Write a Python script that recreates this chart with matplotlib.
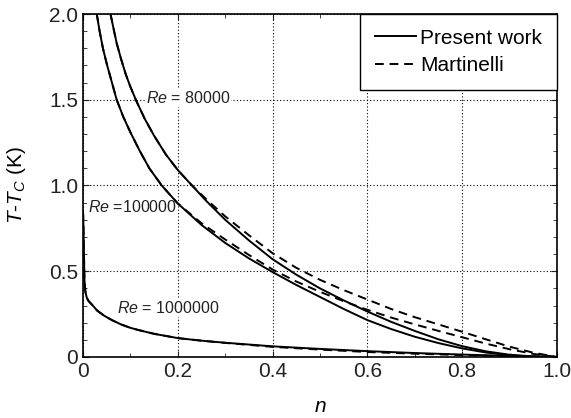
import numpy as np
import matplotlib
matplotlib.use('Agg')
import matplotlib.pyplot as plt
from matplotlib.ticker import MultipleLocator

# --- Dados ---

# Re = 80000, presente trabalho (linha cheia)
n_80k = [0.058, 0.064, 0.071, 0.08, 0.09, 0.1, 0.113, 0.13, 0.15, 0.175, 0.2, 0.23, 0.26,
         0.3, 0.35, 0.4, 0.45, 0.5, 0.55, 0.6, 0.65, 0.7, 0.75, 0.8, 0.85, 0.9, 0.95, 1.0]
t_80k = [2.0, 1.92, 1.83, 1.74, 1.65, 1.575, 1.49, 1.39, 1.29, 1.18, 1.09, 1.0, 0.91,
         0.8, 0.68, 0.57, 0.48, 0.4, 0.33, 0.265, 0.205, 0.152, 0.103, 0.063, 0.033, 0.013, 0.003, 0.0]

# Re = 80000, Martinelli (tracejada)
n_80k_m = [0.058, 0.064, 0.071, 0.08, 0.09, 0.1, 0.113, 0.13, 0.15, 0.175, 0.2, 0.23, 0.26,
           0.3, 0.35, 0.4, 0.45, 0.5, 0.55, 0.6, 0.65, 0.7, 0.75, 0.8, 0.85, 0.9, 0.95, 1.0]
t_80k_m = [2.0, 1.92, 1.83, 1.74, 1.65, 1.575, 1.49, 1.39, 1.29, 1.18, 1.09, 1.0, 0.92,
           0.82, 0.71, 0.605, 0.52, 0.45, 0.39, 0.335, 0.28, 0.232, 0.19, 0.147, 0.103, 0.06, 0.025, 0.0]

# Re = 100000, presente trabalho
n_100k = [0.029, 0.035, 0.042, 0.05, 0.06, 0.071, 0.085, 0.1, 0.12, 0.14, 0.166, 0.2, 0.25,
          0.3, 0.35, 0.4, 0.45, 0.5, 0.55, 0.6, 0.65, 0.7, 0.75, 0.8, 0.85, 0.9, 0.95, 1.0]
t_100k = [2.0, 1.9, 1.8, 1.71, 1.61, 1.5, 1.4, 1.31, 1.2, 1.1, 1.0, 0.895, 0.77,
          0.665, 0.575, 0.495, 0.42, 0.35, 0.28, 0.215, 0.163, 0.118, 0.081, 0.05, 0.026, 0.01, 0.002, 0.0]

# Re = 100000, Martinelli
n_100k_m = [0.029, 0.035, 0.042, 0.05, 0.06, 0.071, 0.085, 0.1, 0.12, 0.14, 0.166, 0.2, 0.25,
            0.3, 0.35, 0.4, 0.45, 0.5, 0.55, 0.6, 0.65, 0.7, 0.75, 0.8, 0.85, 0.9, 0.95, 1.0]
t_100k_m = [2.0, 1.9, 1.8, 1.71, 1.61, 1.5, 1.4, 1.31, 1.2, 1.1, 1.0, 0.895, 0.78,
            0.685, 0.595, 0.51, 0.44, 0.38, 0.325, 0.275, 0.23, 0.19, 0.152, 0.115, 0.078, 0.045, 0.018, 0.0]

# Re = 1000000, presente trabalho
n_1m = [0.0, 0.001, 0.002, 0.003, 0.005, 0.008, 0.012, 0.019, 0.03, 0.045, 0.061, 0.08,
        0.1, 0.117, 0.15, 0.2, 0.25, 0.3, 0.4, 0.5, 0.6, 0.7, 0.8, 0.9, 1.0]
t_1m = [0.85, 0.75, 0.6, 0.45, 0.38, 0.345, 0.325, 0.305, 0.27, 0.24, 0.215, 0.19,
        0.17, 0.157, 0.135, 0.11, 0.095, 0.083, 0.062, 0.047, 0.034, 0.023, 0.014, 0.006, 0.0]

# Re = 1000000, Martinelli
n_1m_m = [0.0, 0.001, 0.002, 0.003, 0.005, 0.008, 0.012, 0.019, 0.03, 0.045, 0.061, 0.08,
          0.1, 0.117, 0.15, 0.2, 0.25, 0.3, 0.4, 0.5, 0.6, 0.7, 0.8, 0.9, 1.0]
t_1m_m = [0.85, 0.75, 0.6, 0.45, 0.38, 0.345, 0.325, 0.305, 0.27, 0.24, 0.215, 0.19,
          0.17, 0.157, 0.135, 0.11, 0.095, 0.082, 0.059, 0.043, 0.029, 0.019, 0.011, 0.004, 0.0]

# Rótulos das curvas: (texto, n, T)
rotulos = [(r'$Re$ = 80000', 0.132, 1.51),
           (r'$Re$ =100000', 0.01, 0.875),
           (r'$Re$ = 1000000', 0.072, 0.285)]

# --- Estilo ---
plt.rcParams['font.family'] = ['Liberation Sans', 'DejaVu Sans']
plt.rcParams['mathtext.fontset'] = 'custom'
plt.rcParams['mathtext.rm'] = 'Liberation Sans'
plt.rcParams['mathtext.it'] = 'Liberation Sans:italic'

fig = plt.figure(figsize=(5.71, 4.18), dpi=100)
ax = fig.add_axes([0.1454, 0.146, 0.83, 0.8205])

lw = 1.4
tracejado = (4.5, 3)

# Linhas cheias (presente trabalho)
ax.plot(n_80k, t_80k, color='black', lw=lw, label='Present work')
ax.plot(n_100k, t_100k, color='black', lw=lw)
ax.plot(n_1m, t_1m, color='black', lw=lw)

# Linhas tracejadas (Martinelli)
ax.plot(n_80k_m, t_80k_m, color='black', lw=lw, dashes=tracejado, label='Martinelli')
ax.plot(n_100k_m, t_100k_m, color='black', lw=lw, dashes=tracejado)
ax.plot(n_1m_m, t_1m_m, color='black', lw=lw, dashes=tracejado)

# Rótulos com fundo branco sobre a grade (abaixo das curvas)
for texto, xr, yr in rotulos:
    ax.text(xr, yr, texto, fontsize=11.5, va='center', ha='left', color='#222222',
            bbox=dict(facecolor='white', edgecolor='none', pad=0.5), zorder=1.8)

# Eixos
ax.set_xlim(0, 1.0)
ax.set_ylim(0, 2.0)
ax.xaxis.set_minor_locator(MultipleLocator(0.1))
ax.yaxis.set_minor_locator(MultipleLocator(0.1))
ax.set_xticks([0, 0.2, 0.4, 0.6, 0.8, 1.0])
ax.set_xticklabels(['0', '0.2', '0.4', '0.6', '0.8', '1.0'])
ax.set_yticks([0, 0.5, 1.0, 1.5, 2.0])
ax.set_yticklabels(['0', '0.5', '1.0', '1.5', '2.0'])
ax.tick_params(which='both', direction='in', top=True, right=True, labelsize=15, colors='#222222')
ax.tick_params(which='major', length=4, width=0.8)
ax.tick_params(which='minor', length=3, width=0.6)
for s in ax.spines.values():
    s.set_linewidth(1.2)

ax.grid(True, which='major', color='black', linestyle=(0, (1, 2)), linewidth=0.8)

ax.set_xlabel(r'$n$', fontsize=15, labelpad=12)
ax.set_ylabel(r'$T$-$T_C$ (K)', fontsize=15, labelpad=15)

leg = ax.legend(loc='upper right', fontsize=15, frameon=True, fancybox=False,
                borderaxespad=0, handlelength=2.0, handletextpad=0.2,
                borderpad=0.7, labelspacing=0.4)
leg.get_frame().set_edgecolor('black')
leg.get_frame().set_linewidth(1.0)
leg.get_frame().set_alpha(1)

fig.savefig('out.png', dpi=100)
